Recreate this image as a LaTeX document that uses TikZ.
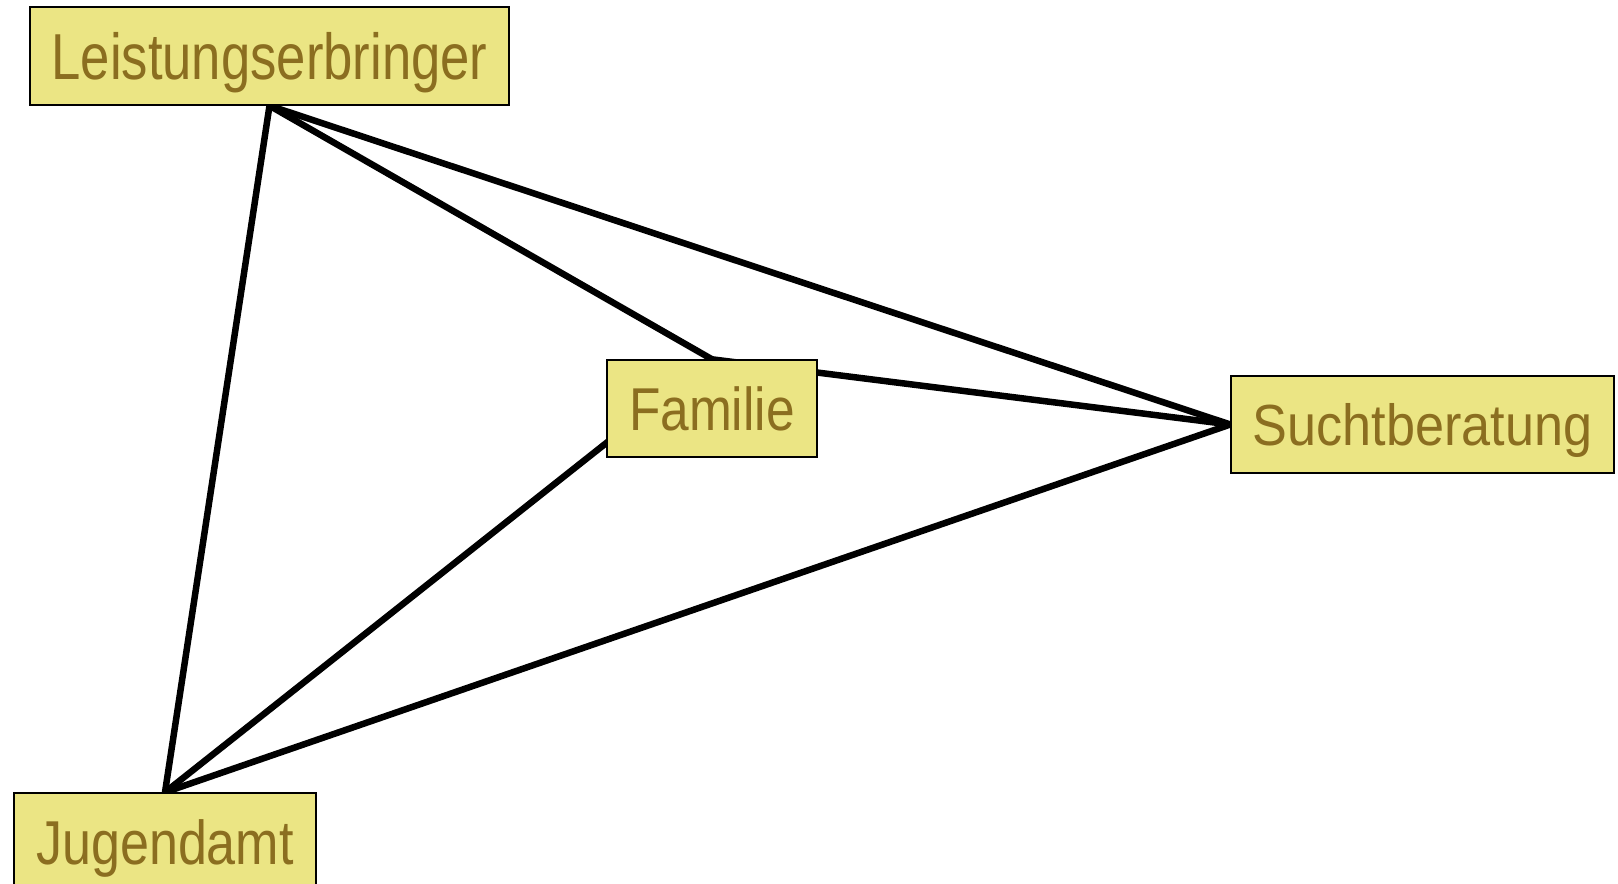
\documentclass[tikz,border=0pt]{standalone}
\usepackage{fontspec}
\setmainfont{Liberation Sans}
\usetikzlibrary{backgrounds}
\definecolor{boxfill}{RGB}{235,229,132}
\definecolor{boxtext}{RGB}{139,110,32}
\tikzset{
  lbox/.style={draw=black, line width=1.4pt, fill=boxfill, text=boxtext,
    inner sep=0pt, text depth=0pt, anchor=center},
  link/.style={draw=black, line width=6.5pt}
}
\newcommand{\lbl}[3]{\fontsize{#1}{#1}\selectfont\scalebox{#2}[1]{#3}}
\begin{document}
\begin{tikzpicture}[x=1pt,y=-1pt]
\useasboundingbox (0,0) rectangle (1618,884);
\node[lbox, minimum width=479pt, minimum height=98pt, text height=46pt] (L) at (269.5,56) {\lbl{65}{0.81}{Leistungserbringer}};
\node[lbox, minimum width=210pt, minimum height=97pt, text height=43pt] (F) at (712,408.5) {\lbl{60.5}{0.85}{Familie}};
\node[lbox, minimum width=383pt, minimum height=97pt, text height=42pt] (S) at (1422.5,424.5) {\lbl{58}{0.90}{Suchtberatung}};
\node[lbox, minimum width=302pt, minimum height=97pt, text height=45pt] (J) at (165,841.5) {\lbl{62}{0.84}{Jugendamt}};
\begin{scope}[on background layer]
  \draw[link] (L.south) -- (J.north);
  \draw[link] (L.south) -- (F.north);
  \draw[link] (L.south) -- (S.west);
  \draw[link] (F.north) -- (S.west);
  \draw[link] (J.north) -- (F.north);
  \draw[link] (J.north) -- (S.west);
\end{scope}
\end{tikzpicture}
\end{document}
